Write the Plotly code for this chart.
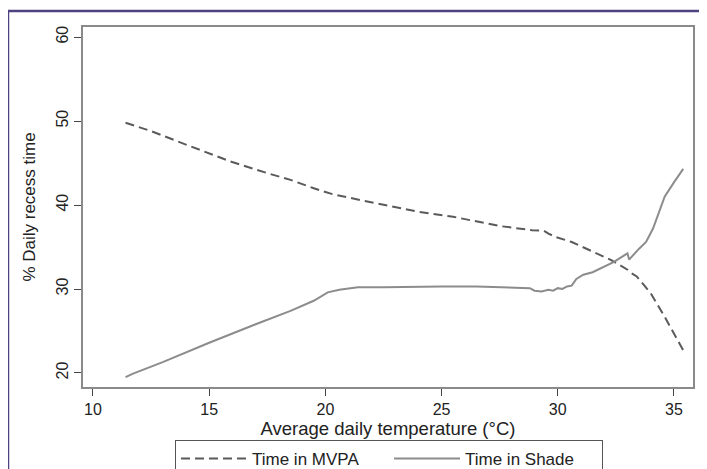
import plotly.graph_objects as go

# Data
mvpa_temp = [11.4, 12.5, 14.0, 15.9, 17.5, 18.5, 19.5, 20.3, 21.5, 23.0, 24.0, 25.5,
             27.5, 28.9, 29.4, 29.6, 29.9, 30.6, 31.4, 32.3, 33.0, 33.1, 33.4, 34.0,
             34.6, 35.1, 35.4]
mvpa_pct = [49.8, 48.8, 47.2, 45.2, 43.8, 43.0, 42.0, 41.3, 40.6, 39.8, 39.2, 38.6,
            37.5, 37.0, 36.95, 36.6, 36.2, 35.6, 34.6, 33.45, 32.3, 32.0, 31.5, 29.5,
            26.7, 24.3, 22.7]

shade_temp = [11.4, 11.7, 13.0, 15.0, 17.0, 18.5, 19.5, 20.1, 20.6, 21.4, 22.5, 24.0,
              25.0, 26.5, 27.5, 28.8, 29.0, 29.3, 29.6, 29.8, 30.0, 30.2, 30.4, 30.6,
              30.8, 31.1, 31.5, 31.9, 32.4, 33.0, 33.07, 33.5, 33.8, 34.1, 34.35,
              34.6, 35.0, 35.4]
shade_pct = [19.5, 19.9, 21.3, 23.6, 25.8, 27.4, 28.6, 29.6, 29.9, 30.2, 30.2, 30.3,
             30.3, 30.3, 30.2, 30.1, 29.8, 29.7, 29.9, 29.8, 30.1, 30.0, 30.3, 30.4,
             31.2, 31.7, 32.0, 32.5, 33.2, 34.25, 33.5, 34.8, 35.6, 37.2, 39.2,
             41.0, 42.7, 44.3]

x_ticks = [10, 15, 20, 25, 30, 35]
y_ticks = [20, 30, 40, 50, 60]

FONT = "Liberation Sans, Arial, sans-serif"

fig = go.Figure()
fig.add_trace(go.Scatter(x=mvpa_temp, y=mvpa_pct, mode="lines", name="Time in MVPA",
                         line=dict(color="#5a5a5a", width=2, dash="9px,5px")))
fig.add_trace(go.Scatter(x=shade_temp, y=shade_pct, mode="lines", name="Time in Shade",
                         line=dict(color="#8c8c8c", width=2)))

# page body has an 8px margin; work in reference pixels and subtract it
OFF = 8
W, H = 707 - OFF, 469 - OFF
L, T = 83 - OFF, 27 - OFF
R = W - (693 - OFF)
B = H - (387 - OFF)
pw, ph = W - L - R, H - T - B

def px_x(p):
    return (p - OFF - L) / pw

def px_y(p):
    return (H - B - (p - OFF)) / ph

# outer purple frame (top & left edges of the cropped figure)
fig.add_shape(type="line", xref="paper", yref="paper",
              x0=px_x(8), x1=px_x(712), y0=px_y(11), y1=px_y(11),
              line=dict(color="#4f4280", width=2.5))
fig.add_shape(type="line", xref="paper", yref="paper",
              x0=px_x(8), x1=px_x(8), y0=px_y(11), y1=px_y(475),
              line=dict(color="#4f4280", width=2.5))

axis_common = dict(showline=True, mirror=True, linecolor="#8a8a8a", linewidth=1.5,
                   ticks="outside", ticklen=7, tickcolor="#444", tickwidth=1,
                   showgrid=False, zeroline=False,
                   tickfont=dict(family=FONT, size=16, color="#222"))

fig.update_xaxes(range=[9.57, 35.82], tickvals=x_ticks,
                 title=dict(text="Average daily temperature (°C)",
                            font=dict(family=FONT, size=18.5, color="#222"), standoff=4),
                 **axis_common)
fig.update_yaxes(range=[18.33, 61.2], tickvals=y_ticks, tickangle=-90,
                 title=dict(text="% Daily recess time",
                            font=dict(family=FONT, size=17, color="#222"), standoff=14),
                 **axis_common)

fig.update_layout(
    width=W, height=H,
    margin=dict(l=L, r=R, t=T, b=B, autoexpand=False),
    plot_bgcolor="white", paper_bgcolor="white",
    font=dict(family=FONT, size=16, color="#222"),
    showlegend=True,
    legend=dict(orientation="h", x=px_x(175), y=px_y(440), xanchor="left", yanchor="top",
                bordercolor="#555", borderwidth=1, bgcolor="white",
                font=dict(family=FONT, size=17, color="#222"),
                entrywidth=132, entrywidthmode="pixels", itemwidth=66,
                tracegroupgap=0),
)

fig.write_html("out.html")
